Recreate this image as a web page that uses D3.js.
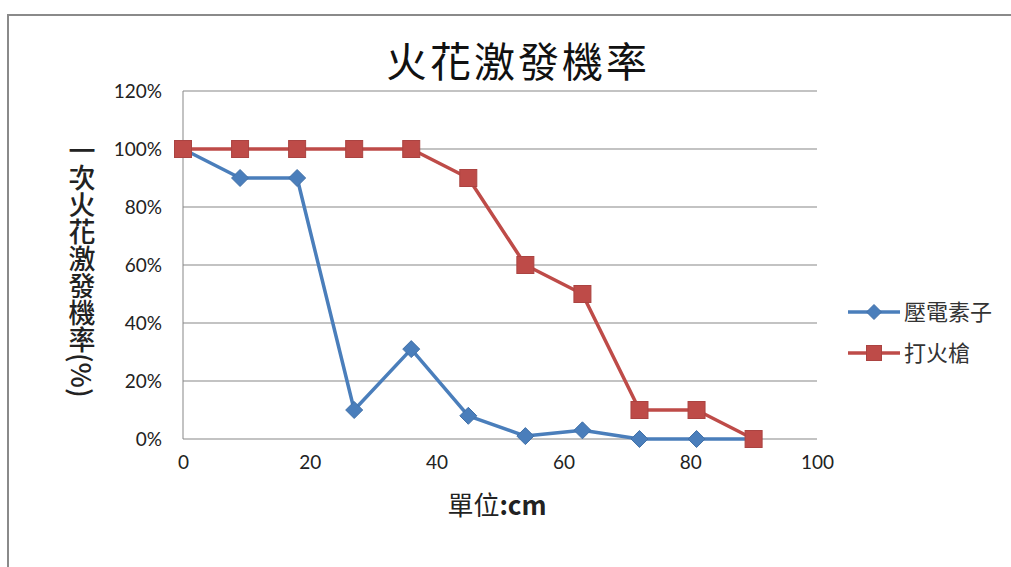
<!DOCTYPE html>
<html>
<head>
<meta charset="utf-8">
<script src="https://cdn.jsdelivr.net/npm/d3@7"></script>
<style>
  html, body { margin: 0; padding: 0; background: #fff; }
  svg { display: block; }
</style>
</head>
<body>
<svg id="chart" width="1011" height="567"></svg>
<script>
// Distance from source (cm)
const distances = [0, 9, 18, 27, 36, 45, 54, 63, 72, 81, 90];
// Spark ignition probability for each igniter
const piezoValues = [1.00, 0.90, 0.90, 0.10, 0.31, 0.08, 0.01, 0.03, 0.00, 0.00, 0.00];
const gunValues   = [1.00, 1.00, 1.00, 1.00, 1.00, 0.90, 0.60, 0.50, 0.10, 0.10, 0.00];
const seriesNames = ["壓電素子", "打火槍"];
const yTicks = [0, 0.2, 0.4, 0.6, 0.8, 1.0, 1.2];
const xTicks = [0, 20, 40, 60, 80, 100];

const svg = d3.select("#chart");
const numFont = "Lato, 'Liberation Sans', sans-serif";
const cjkFont = "'Noto Sans CJK TC', 'Noto Sans CJK SC', sans-serif";

// frame
svg.append("path")
  .attr("d", "M8,567 L8,15 L1011,15")
  .attr("fill", "none").attr("stroke", "#8a8a8a").attr("stroke-width", 2);

const x = d3.scaleLinear().domain([0, 100]).range([183, 817]);
const y = d3.scaleLinear().domain([0, 1.2]).range([439, 91]);

// horizontal gridlines
svg.append("g").selectAll("line").data(yTicks).join("line")
  .attr("x1", x(0)).attr("x2", x(100))
  .attr("y1", d => y(d)).attr("y2", d => y(d))
  .attr("stroke", "#878787").attr("stroke-width", 1);

// vertical axis line
svg.append("line")
  .attr("x1", x(0)).attr("x2", x(0)).attr("y1", y(1.2)).attr("y2", y(0))
  .attr("stroke", "#878787").attr("stroke-width", 1);

// y tick labels
const yAxis = d3.axisLeft(y).tickValues(yTicks).tickFormat(d3.format(".0%")).tickSize(0).tickPadding(21);
const gy = svg.append("g").attr("transform", `translate(${x(0)},0)`).call(yAxis);
gy.select(".domain").remove();
gy.selectAll("text").attr("font-family", numFont).attr("font-size", 19).attr("fill", "#222");

// x tick labels
const xAxis = d3.axisBottom(x).tickValues(xTicks).tickFormat(d3.format("d")).tickSize(0).tickPadding(17);
const gx = svg.append("g").attr("transform", `translate(0,${y(0)})`).call(xAxis);
gx.select(".domain").remove();
gx.selectAll("text").attr("font-family", numFont).attr("font-size", 19).attr("fill", "#222");

// title
svg.append("text")
  .attr("x", 518).attr("y", 77).attr("text-anchor", "middle")
  .attr("font-family", cjkFont).attr("font-size", 41).attr("font-weight", 400)
  .attr("letter-spacing", 3).attr("fill", "#111")
  .text("火花激發機率");

// x axis title
const xt = svg.append("text")
  .attr("x", 497).attr("y", 515).attr("text-anchor", "middle")
  .attr("font-family", cjkFont).attr("font-size", 26).attr("fill", "#222");
xt.append("tspan").attr("font-weight", 400).text("單位");
xt.append("tspan").attr("font-weight", 700).text(":cm");

// y axis title (vertical)
svg.append("text")
  .attr("x", 82).attr("y", 137)
  .attr("writing-mode", "vertical-rl")
  .attr("font-family", cjkFont).attr("font-size", 27).attr("font-weight", 500).attr("fill", "#222")
  .text("一次火花激發機率(%)");

const colors = ["#4a7ebb", "#be4b48"];
const line = d3.line().x((d, i) => x(distances[i])).y(d => y(d));

function diamond(g, cx, cy, r, color) {
  g.append("path")
    .attr("d", `M${cx},${cy - r} L${cx + r},${cy} L${cx},${cy + r} L${cx - r},${cy} Z`)
    .attr("fill", color).attr("stroke", d3.color(color).darker(0.3)).attr("stroke-width", 1);
}
function square(g, cx, cy, s, color) {
  g.append("rect")
    .attr("x", cx - s / 2).attr("y", cy - s / 2).attr("width", s).attr("height", s)
    .attr("fill", color).attr("stroke", d3.color(color).darker(0.3)).attr("stroke-width", 1);
}

// piezo series
const gBlue = svg.append("g");
gBlue.append("path").datum(piezoValues).attr("d", line)
  .attr("fill", "none").attr("stroke", colors[0]).attr("stroke-width", 3.5).attr("stroke-linejoin", "round");
piezoValues.forEach((v, i) => diamond(gBlue, x(distances[i]), y(v), 8.5, colors[0]));

// gun series
const gRed = svg.append("g");
gRed.append("path").datum(gunValues).attr("d", line)
  .attr("fill", "none").attr("stroke", colors[1]).attr("stroke-width", 3.5).attr("stroke-linejoin", "round");
gunValues.forEach((v, i) => square(gRed, x(distances[i]), y(v), 17, colors[1]));

// legend
const legendY = [312, 353];
seriesNames.forEach((name, i) => {
  const g = svg.append("g");
  g.append("line").attr("x1", 848).attr("x2", 900).attr("y1", legendY[i]).attr("y2", legendY[i])
    .attr("stroke", colors[i]).attr("stroke-width", 3.5);
  if (i === 0) diamond(g, 874, legendY[i], 7.5, colors[i]);
  else square(g, 874, legendY[i], 15, colors[i]);
  g.append("text").attr("x", 904).attr("y", legendY[i] + 8)
    .attr("font-family", cjkFont).attr("font-size", 22).attr("fill", "#333")
    .text(name);
});
</script>
</body>
</html>
